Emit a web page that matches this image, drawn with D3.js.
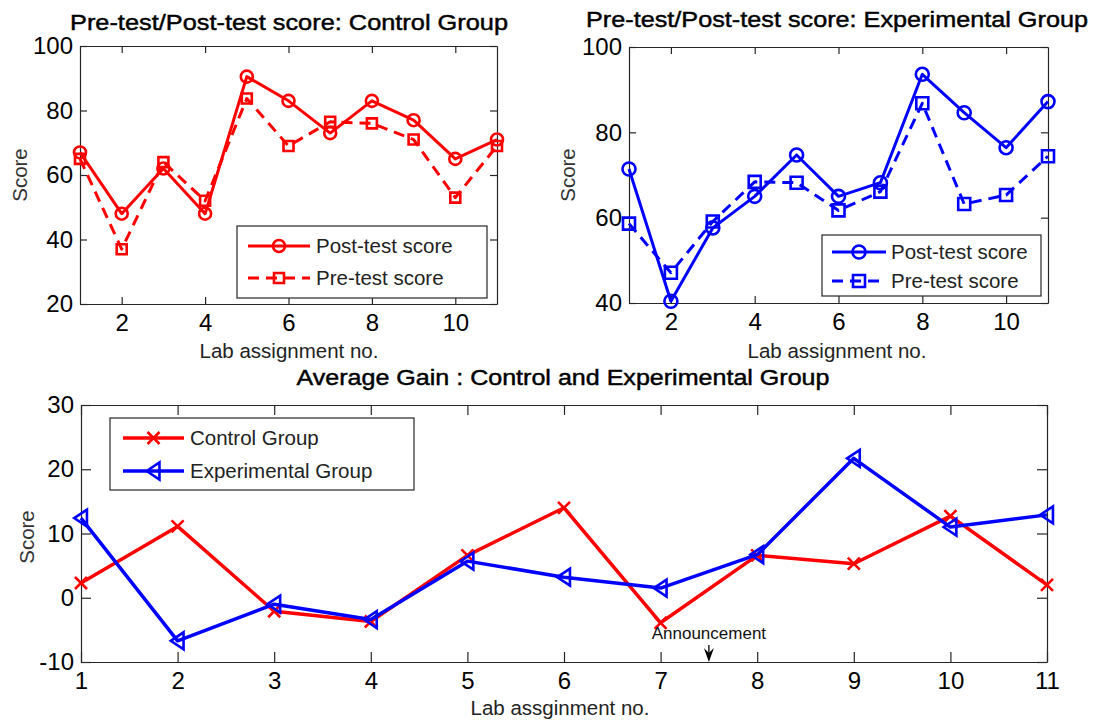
<!DOCTYPE html>
<html>
<head>
<meta charset="utf-8">
<script src="https://cdn.jsdelivr.net/npm/d3@7"></script>
<style>
	body { margin: 0; background: #fff; }
	text { font-family: "Liberation Sans", Arial, sans-serif; }
</style>
</head>
<body>
<div id="chart"></div>
<script>
// lab assignments 1..11
var labs = [1, 2, 3, 4, 5, 6, 7, 8, 9, 10, 11];

// control group scores
var controlPost = [67, 48, 62, 48, 90.5, 83, 73, 83, 77, 65, 71];
var controlPre = [65, 37, 64, 52, 83.7, 69, 76.5, 76, 71, 53, 69];

// experimental group scores
var expPost = [71.4, 40.4, 57.6, 65, 74.7, 65, 68.2, 93.6, 84.6, 76.4, 87.2];
var expPre = [58.6, 47.1, 59.1, 68.4, 68.2, 61.7, 66.1, 86.8, 63.2, 65.3, 74.4];

// average gain
var controlGain = [2.3, 11.1, -2.1, -3.7, 6.6, 14.0, -3.9, 6.6, 5.3, 12.7, 2.0];
var expGain = [12.4, -6.7, -1.0, -3.4, 5.7, 3.2, 1.5, 6.7, 21.7, 11.0, 12.9];

var topXTicks = [2, 4, 6, 8, 10];
var controlYTicks = [20, 40, 60, 80, 100];
var expYTicks = [40, 60, 80, 100];
var gainYTicks = [-10, 0, 10, 20, 30];
var announcementAt = 7.5;

var RED = "#ff0000", BLUE = "#0000ff", AXIS = "#262626";

var svg = d3.select("#chart").append("svg")
	.attr("width", 1094)
	.attr("height", 721)
	.style("background", "#fff");

function markerPath(type, s) {
	var h = s / 2;
	if (type == "circle") {
		return "M" + h + ",0A" + h + "," + h + " 0 1,1 " + (-h) + ",0A" + h + "," + h + " 0 1,1 " + h + ",0Z";
	}
	if (type == "square") return "M" + (-h) + "," + (-h) + "H" + h + "V" + h + "H" + (-h) + "Z";
	if (type == "x") return "M" + (-h) + "," + (-h) + "L" + h + "," + h + "M" + (-h) + "," + h + "L" + h + "," + (-h);
	// triangle pointing left
	return "M" + (-h * 0.8) + ",0L" + (h * 0.7) + "," + (-h) + "L" + (h * 0.7) + "," + h + "Z";
}

// plain hyphen for negatives, like matlab
function plainFormat(d) { return String(d); }

function drawPanel(p) {
	var x = d3.scaleLinear().domain([1, 11]).range([p.left, p.right]);
	var y = d3.scaleLinear().domain(p.yDomain).range([p.bottom, p.top]);
	var g = svg.append("g");

	var axes = [
		{a: d3.axisBottom(x).tickValues(p.xTicks).tickPadding(p.xPad).tickFormat(plainFormat), t: "translate(0," + p.bottom + ")"},
		{a: d3.axisTop(x).tickValues(p.xTicks).tickFormat(""), t: "translate(0," + p.top + ")"},
		{a: d3.axisLeft(y).tickValues(p.yTicks).tickPadding(7).tickFormat(plainFormat), t: "translate(" + p.left + ",0)"},
		{a: d3.axisRight(y).tickValues(p.yTicks).tickFormat(""), t: "translate(" + p.right + ",0)"}
	];
	axes.forEach(function(ax) {
		ax.a.tickSize(-p.tick).tickSizeOuter(0);
		var ag = g.append("g").attr("transform", ax.t).call(ax.a);
		ag.select(".domain").attr("stroke", AXIS).attr("stroke-width", 1.2);
		ag.selectAll(".tick line").attr("stroke", AXIS).attr("stroke-width", 1.2);
		ag.selectAll(".tick text")
			.style("font-family", "'Liberation Sans', Arial, sans-serif")
			.style("font-size", "24px")
			.attr("fill", "#000");
	});

	// series
	p.series.forEach(function(s) {
		var pts = labs.map(function(d, i) { return [x(d), y(s.values[i])]; });
		g.append("path")
			.attr("d", d3.line()(pts))
			.attr("fill", "none")
			.attr("stroke", s.color)
			.attr("stroke-width", p.lw)
			.attr("stroke-linejoin", "round")
			.attr("stroke-dasharray", s.dash ? "11,7" : null);
		g.selectAll(null).data(pts).enter().append("path")
			.attr("transform", function(d) { return "translate(" + d[0] + "," + d[1] + ")"; })
			.attr("d", markerPath(s.marker, s.size))
			.attr("fill", "none")
			.attr("stroke", s.color)
			.attr("stroke-width", 2.6);
	});

	// titles and labels
	g.append("text")
		.attr("x", p.titleX).attr("y", p.titleY)
		.attr("text-anchor", "middle")
		.attr("textLength", p.titleW).attr("lengthAdjust", "spacingAndGlyphs")
		.style("font-size", "22px")
		.attr("stroke", "#000").attr("stroke-width", 0.45)
		.text(p.title);
	g.append("text")
		.attr("x", p.xLabelX).attr("y", p.xLabelY)
		.attr("text-anchor", "middle")
		.style("font-size", "20.5px").attr("fill", "#222")
		.text(p.xLabel);
	g.append("text")
		.attr("transform", "translate(" + p.yLabelX + "," + p.yLabelY + ") rotate(-90)")
		.attr("text-anchor", "middle")
		.style("font-size", "20.5px").attr("fill", "#333")
		.text("Score");

	// legend
	var L = p.legend;
	g.append("rect")
		.attr("x", L.x0).attr("y", L.y0)
		.attr("width", L.x1 - L.x0).attr("height", L.y1 - L.y0)
		.attr("fill", "#fff").attr("stroke", AXIS).attr("stroke-width", 1.2);
	p.series.forEach(function(s, i) {
		var ly = L.rows[i];
		g.append("line")
			.attr("x1", L.lineX0).attr("x2", L.lineX1)
			.attr("y1", ly).attr("y2", ly)
			.attr("stroke", s.color).attr("stroke-width", p.lw)
			.attr("stroke-dasharray", s.dash ? "11,7" : null);
		g.append("path")
			.attr("transform", "translate(" + (L.lineX0 + L.lineX1) / 2 + "," + ly + ")")
			.attr("d", markerPath(s.marker, s.size))
			.attr("fill", "none").attr("stroke", s.color).attr("stroke-width", 2.6);
		g.append("text")
			.attr("x", L.textX).attr("y", ly).attr("dy", "0.35em")
			.style("font-size", "20.5px").attr("fill", "#222")
			.text(s.name);
	});
	return {x: x, y: y, g: g};
}

drawPanel({
	left: 80, right: 497, top: 46, bottom: 304, tick: 7, xPad: 10, lw: 3,
	yDomain: [20, 100], xTicks: topXTicks, yTicks: controlYTicks,
	title: "Pre-test/Post-test score: Control Group", titleX: 289, titleY: 30, titleW: 438,
	xLabel: "Lab assignment no.", xLabelX: 289, xLabelY: 358,
	yLabelX: 27, yLabelY: 175,
	series: [
		{name: "Post-test score", values: controlPost, color: RED, marker: "circle", size: 12},
		{name: "Pre-test score", values: controlPre, color: RED, marker: "square", size: 10, dash: true}
	],
	legend: {x0: 237, x1: 487, y0: 226, y1: 298, rows: [246, 278], lineX0: 248, lineX1: 310, textX: 316}
});

drawPanel({
	left: 629, right: 1048, top: 47, bottom: 303, tick: 7, xPad: 10, lw: 3,
	yDomain: [40, 100], xTicks: topXTicks, yTicks: expYTicks,
	title: "Pre-test/Post-test score: Experimental Group", titleX: 837, titleY: 27, titleW: 502,
	xLabel: "Lab assignment no.", xLabelX: 837, xLabelY: 358,
	yLabelX: 575, yLabelY: 175,
	series: [
		{name: "Post-test score", values: expPost, color: BLUE, marker: "circle", size: 13},
		{name: "Pre-test score", values: expPre, color: BLUE, marker: "square", size: 12, dash: true}
	],
	legend: {x0: 822, x1: 1041, y0: 235, y1: 296, rows: [252, 281], lineX0: 832, lineX1: 886, textX: 891}
});

var gain = drawPanel({
	left: 81, right: 1047, top: 405, bottom: 662, tick: 10, xPad: 10, lw: 3.5,
	yDomain: [-10, 30], xTicks: labs, yTicks: gainYTicks,
	title: "Average Gain : Control and Experimental Group", titleX: 563, titleY: 385, titleW: 533,
	xLabel: "Lab assginment no.", xLabelX: 560, xLabelY: 715,
	yLabelX: 34, yLabelY: 537,
	series: [
		{name: "Control Group", values: controlGain, color: RED, marker: "x", size: 12},
		{name: "Experimental Group", values: expGain, color: BLUE, marker: "tri", size: 17}
	],
	legend: {x0: 110, x1: 414, y0: 418, y1: 490, rows: [438, 471], lineX0: 123, lineX1: 184, textX: 190}
});

// announcement arrow between lab 7 and 8
var ax = gain.x(announcementAt), ay = gain.y(-10);
gain.g.append("text")
	.attr("x", ax).attr("y", ay - 23)
	.attr("text-anchor", "middle")
	.style("font-size", "17px").attr("fill", "#111")
	.text("Announcement");
gain.g.append("line")
	.attr("x1", ax).attr("x2", ax).attr("y1", ay - 17).attr("y2", ay - 4)
	.attr("stroke", "#000").attr("stroke-width", 1.3);
gain.g.append("path")
	.attr("transform", "translate(" + ax + "," + ay + ")")
	.attr("d", "M0,0L-5,-14L0,-9L5,-14Z")
	.attr("fill", "#000");
</script>
</body>
</html>
